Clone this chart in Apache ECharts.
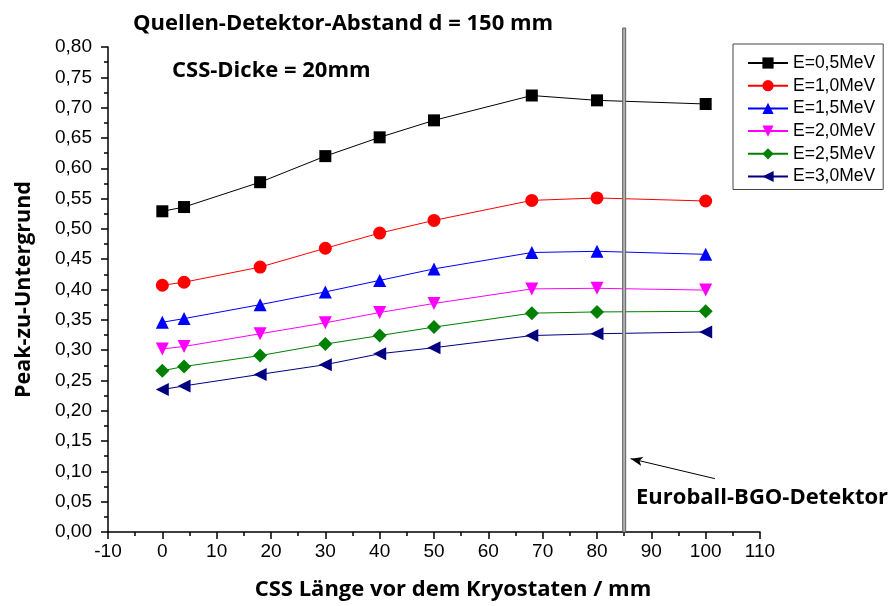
<!DOCTYPE html>
<html>
<head>
<meta charset="utf-8">
<script src="https://cdn.jsdelivr.net/npm/echarts@6/dist/echarts.min.js"></script>
<style>
  html, body { margin: 0; padding: 0; background: #fff; }
  #chart { width: 889px; height: 606px; }
</style>
</head>
<body>
<div id="chart"></div>
<script>
// CSS length in front of the cryostat (mm)
const lengths = [0, 4, 18, 30, 40, 50, 68, 80, 100];

// Peak-to-background ratio per gamma energy
const e05 = [0.529, 0.536, 0.577, 0.620, 0.651, 0.679, 0.720, 0.712, 0.706];
const e10 = [0.407, 0.412, 0.437, 0.468, 0.493, 0.514, 0.547, 0.551, 0.546];
const e15 = [0.346, 0.352, 0.375, 0.396, 0.415, 0.434, 0.461, 0.463, 0.458];
const e20 = [0.302, 0.306, 0.327, 0.345, 0.362, 0.377, 0.401, 0.402, 0.399];
const e25 = [0.266, 0.273, 0.291, 0.310, 0.324, 0.338, 0.361, 0.363, 0.364];
const e30 = [0.235, 0.241, 0.260, 0.276, 0.294, 0.304, 0.324, 0.327, 0.330];

const seriesNames = ['E=0,5MeV', 'E=1,0MeV', 'E=1,5MeV', 'E=2,0MeV', 'E=2,5MeV', 'E=3,0MeV'];
const seriesValues = [e05, e10, e15, e20, e25, e30];
const seriesColors = ['#000000', '#ff0000', '#0000ff', '#ff00ff', '#008000', '#000080'];
const seriesSymbols = ['rect', 'circle', 'triangle', 'triangle', 'diamond', 'triangle'];
const symbolRotations = [0, 0, 0, 180, 0, 90];
const symbolSizes = [12, 13, 13, 13, 14, 13];

// Detector position and the arrow pointing at it (data coordinates)
const detectorX = 85;
const arrowFrom = [101.7, 0.088];
const arrowTo = [86.2, 0.121];

const chart = echarts.init(document.getElementById('chart'), null, { renderer: 'canvas' });

const boldFont = '"Open Sans", "DejaVu Sans", sans-serif';
const tickFont = '"Liberation Sans", Arial, sans-serif';

const series = seriesNames.map((name, i) => ({
  name: name,
  type: 'line',
  data: lengths.map((x, j) => [x, seriesValues[i][j]]),
  symbol: seriesSymbols[i],
  symbolRotate: symbolRotations[i],
  symbolSize: symbolSizes[i],
  showAllSymbol: true,
  lineStyle: { color: seriesColors[i], width: 1 },
  itemStyle: { color: seriesColors[i] },
  emphasis: { disabled: true },
  z: 3
}));

// Arrow to the detector line
series.push({
  type: 'line',
  data: [],
  silent: true,
  markLine: {
    silent: true,
    symbol: ['none', 'arrow'],
    symbolSize: [7, 12],
    label: { show: false },
    lineStyle: { color: '#000', width: 1, type: 'solid' },
    data: [[{ coord: arrowFrom }, { coord: arrowTo }]]
  }
});

const option = {
  animation: false,
  backgroundColor: '#ffffff',
  grid: { left: 108, right: 129, top: 47, bottom: 74, containLabel: false },
  title: [
    {
      text: 'Quellen-Detektor-Abstand d = 150 mm',
      left: 128, top: 8,
      textStyle: { fontFamily: boldFont, fontWeight: 'bold', fontSize: 22, color: '#000' }
    },
    {
      text: 'CSS-Dicke = 20mm',
      left: 167, top: 55,
      textStyle: { fontFamily: boldFont, fontWeight: 'bold', fontSize: 22, color: '#000' }
    }
  ],
  legend: {
    orient: 'vertical',
    left: 733, top: 44,
    data: seriesNames,
    itemWidth: 40, itemHeight: 14, itemGap: 4.7,
    padding: [10, 8, 4, 14],
    borderColor: '#444', borderWidth: 1,
    backgroundColor: '#fff',
    textStyle: { fontFamily: tickFont, fontSize: 17.5, color: '#000', padding: [0, 0, 0, 0] }
  },
  xAxis: {
    type: 'value',
    min: -10, max: 110, interval: 10,
    name: 'CSS Länge vor dem Kryostaten / mm',
    nameLocation: 'middle', nameGap: 47,
    nameTextStyle: {
      fontFamily: boldFont, fontWeight: 'bold', fontSize: 22, color: '#000',
      padding: [0, 0, 0, 38]
    },
    axisLine: { show: true, onZero: false, lineStyle: { color: '#000', width: 1.5 } },
    axisTick: { show: true, inside: false, length: 7, lineStyle: { color: '#000', width: 1.5 } },
    minorTick: { show: true, splitNumber: 2, length: 4, lineStyle: { color: '#000', width: 1.5 } },
    axisLabel: { fontFamily: tickFont, fontSize: 19, color: '#000', margin: 10 },
    splitLine: { show: false }
  },
  yAxis: {
    type: 'value',
    min: 0, max: 0.8, interval: 0.05,
    name: 'Peak-zu-Untergrund',
    nameLocation: 'middle', nameGap: 73, nameRotate: 90,
    nameTextStyle: { fontFamily: boldFont, fontWeight: 'bold', fontSize: 21.5, color: '#000' },
    axisLine: { show: true, onZero: false, lineStyle: { color: '#000', width: 1.5 } },
    axisTick: { show: true, inside: false, length: 7, lineStyle: { color: '#000', width: 1.5 } },
    minorTick: { show: true, splitNumber: 2, length: 4, lineStyle: { color: '#000', width: 1.5 } },
    axisLabel: {
      fontFamily: tickFont, fontSize: 19, color: '#000', margin: 16,
      formatter: v => v.toFixed(2).replace('.', ',')
    },
    splitLine: { show: false }
  },
  series: series
};

chart.setOption(option);

// Detector marker: a double grey line at the detector position, reaching above the plot
const px = chart.convertToPixel({ xAxisIndex: 0 }, detectorX);
const pyBottom = chart.convertToPixel({ yAxisIndex: 0 }, 0);
chart.setOption({
  graphic: [
    {
      type: 'rect',
      shape: { x: px - 1.5, y: 28, width: 3, height: pyBottom - 28 },
      style: { fill: '#b0b0b0', stroke: '#606060', lineWidth: 1 },
      z: 10, silent: true
    },
    {
      type: 'text',
      left: 636, top: 487,
      style: {
        text: 'Euroball-BGO-Detektor',
        font: 'bold 22px ' + boldFont,
        fill: '#000'
      },
      z: 10, silent: true
    }
  ]
});
</script>
</body>
</html>
